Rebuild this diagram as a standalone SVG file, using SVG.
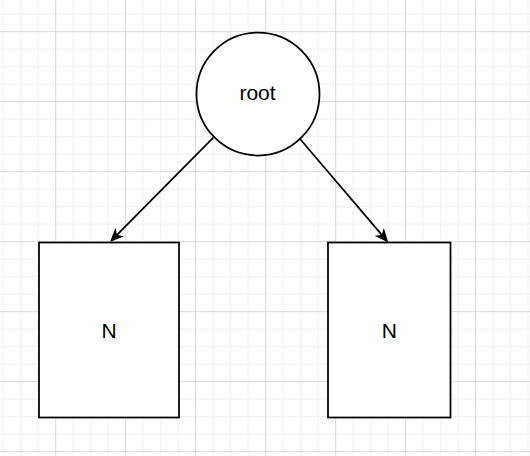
<svg xmlns="http://www.w3.org/2000/svg" width="530" height="456" viewBox="0 0 530 456">
  <defs>
    <pattern id="grid" patternUnits="userSpaceOnUse" x="55.2" y="31.2" width="70" height="70">
      <rect x="0" y="0" width="70" height="70" fill="#ffffff"/>
      <rect x="17.5" y="0" width="1" height="70" fill="#f0f0f0"/>
      <rect x="35" y="0" width="1" height="70" fill="#f0f0f0"/>
      <rect x="52.5" y="0" width="1" height="70" fill="#f0f0f0"/>
      <rect x="0" y="17.5" width="70" height="1" fill="#f0f0f0"/>
      <rect x="0" y="35" width="70" height="1" fill="#f0f0f0"/>
      <rect x="0" y="52.5" width="70" height="1" fill="#f0f0f0"/>
      <rect x="0" y="0" width="1" height="70" fill="#d9d9d9"/>
      <rect x="0" y="0" width="70" height="1" fill="#d9d9d9"/>
    </pattern>
    <marker id="arrow" markerUnits="userSpaceOnUse" viewBox="0 0 14 12" markerWidth="14" markerHeight="12" refX="4" refY="6" orient="auto">
      <path d="M14,6 L0,0 L4,6 L0,12 Z" fill="#000000"/>
    </marker>
  </defs>
  <style>
    .shape { fill: #ffffff; stroke: #000000; stroke-width: 1.75; }
    .label { font-family: "Liberation Sans", Arial, Helvetica, sans-serif; font-size: 21px; fill: #000000; text-anchor: middle; }
    .edge { fill: none; stroke: #000000; stroke-width: 1.75; marker-end: url(#arrow); }
  </style>
  <rect x="0" y="0" width="530" height="456" fill="url(#grid)"/>
  <g id="connectors">
    <path class="edge" d="M213.3,137.7 L117,234.9"/>
    <path class="edge" d="M299,137.7 L381.8,234.9"/>
  </g>
  <g id="root">
    <circle class="shape" cx="258" cy="94" r="61.5"/>
    <text class="label" x="257.5" y="100.3">root</text>
  </g>
  <g id="left">
    <rect class="shape" x="39" y="242.5" width="140" height="175"/>
    <text class="label" x="109" y="337.5">N</text>
  </g>
  <g id="right">
    <rect class="shape" x="328" y="242.5" width="122.5" height="175"/>
    <text class="label" x="389.25" y="337.5">N</text>
  </g>
</svg>
